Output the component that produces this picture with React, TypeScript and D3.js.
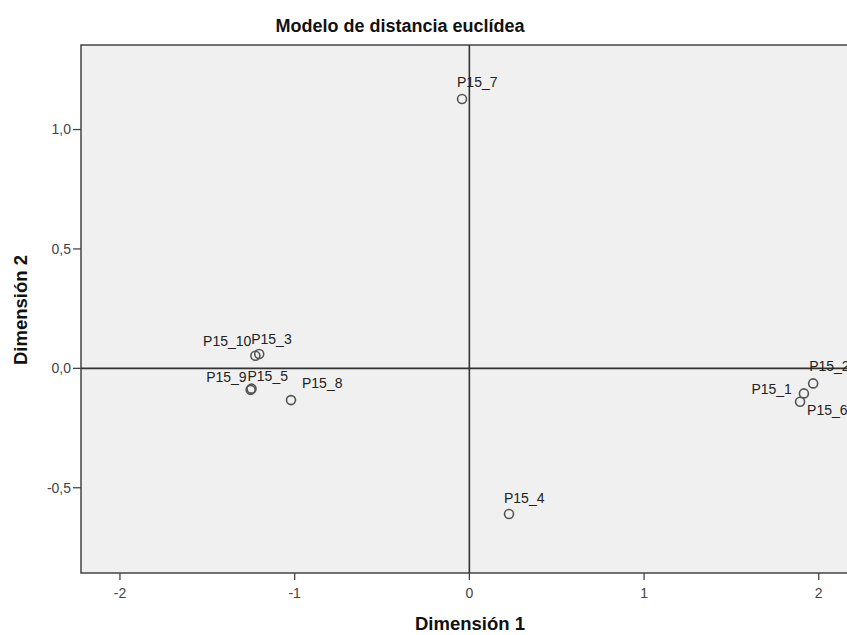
import React from 'react';
import * as d3 from 'd3';

// stimulus coordinates (dimension 1, dimension 2)
const names = ['P15_1', 'P15_2', 'P15_3', 'P15_4', 'P15_5', 'P15_6', 'P15_7', 'P15_8', 'P15_9', 'P15_10'];
const dim1 = [1.915, 1.968, -1.203, 0.227, -1.247, 1.893, -0.042, -1.021, -1.252, -1.225];
const dim2 = [-0.105, -0.063, 0.06, -0.61, -0.085, -0.14, 1.128, -0.133, -0.09, 0.053];

const xTicks = [-2, -1, 0, 1, 2];
const yTicks = [-0.5, 0, 0.5, 1.0];

// label offsets relative to the marker (px), like SPSS places them
const labelOffsets: Record<string, [number, number, string]> = {
  P15_1: [-12, 1, 'end'],
  P15_2: [-4, -12, 'start'],
  P15_3: [-8, -10, 'start'],
  P15_4: [-5, -11, 'start'],
  P15_5: [-4, -8, 'start'],
  P15_6: [7, 13, 'start'],
  P15_7: [-5, -12, 'start'],
  P15_8: [11, -12, 'start'],
  P15_9: [-4, -8, 'end'],
  P15_10: [-4, -10, 'end'],
};

const W = 847;
const H = 635;
const plot = { left: 81, top: 45, right: 880, bottom: 573 };

const App: React.FC = () => {
  const x = d3.scaleLinear().domain([-2.223, 2.35]).range([plot.left, plot.left + (2.35 + 2.223) * 174.7]);
  const y = d3.scaleLinear().domain([-0.857, 1.354]).range([plot.bottom, plot.top]);
  const font = 'Arial, "Liberation Sans", Helvetica, sans-serif';

  const pts = names.map((n, i) => ({ name: n, x: dim1[i], y: dim2[i] }));

  return (
    <svg width={W} height={H} style={{ position: 'absolute', left: 0, top: 0, background: '#fff' }} fontFamily={font}>
      <defs>
        <clipPath id="pc">
          <rect x={0} y={0} width={W} height={H} />
        </clipPath>
      </defs>
      <text x={400} y={32} textAnchor="middle" fontSize={18} fontWeight="bold" fill="#111">
        Modelo de distancia euclídea
      </text>
      <rect
        x={plot.left}
        y={plot.top}
        width={plot.right - plot.left}
        height={plot.bottom - plot.top}
        fill="#f0f0f0"
        stroke="#444"
        strokeWidth={1.5}
      />
      {/* reference lines */}
      <line x1={x(0)} x2={x(0)} y1={plot.top} y2={plot.bottom} stroke="#333" strokeWidth={1.6} />
      <line x1={plot.left} x2={plot.right} y1={y(0)} y2={y(0)} stroke="#333" strokeWidth={1.6} />

      {/* x axis */}
      {xTicks.map((t) => (
        <g key={'x' + t} transform={`translate(${x(t)},${plot.bottom})`}>
          <line y1={0} y2={7} stroke="#444" strokeWidth={1.3} />
          <text y={25} textAnchor="middle" fontSize={14} fill="#444">
            {t}
          </text>
        </g>
      ))}
      {/* y axis */}
      {yTicks.map((t) => (
        <g key={'y' + t} transform={`translate(${plot.left},${y(t)})`}>
          <line x1={0} x2={-8} stroke="#444" strokeWidth={1.3} />
          <text x={-10} dy="0.35em" textAnchor="end" fontSize={14} fill="#444">
            {d3.format('.1f')(t).replace('.', ',').replace('−', '-')}
          </text>
        </g>
      ))}

      <text x={470} y={630} textAnchor="middle" fontSize={18.5} fontWeight="bold" fill="#111">
        Dimensión 1
      </text>
      <text
        transform={`translate(27,${310}) rotate(-90)`}
        textAnchor="middle"
        fontSize={18.5}
        fontWeight="bold"
        fill="#111"
      >
        Dimensión 2
      </text>

      {/* points */}
      <g clipPath="url(#pc)">
        {pts.map((p) => (
          <circle key={p.name} cx={x(p.x)} cy={y(p.y)} r={4.5} fill="none" stroke="#555" strokeWidth={1.6} />
        ))}
        {pts.map((p) => {
          const [dx, dy, anchor] = labelOffsets[p.name];
          return (
            <text
              key={'l' + p.name}
              x={x(p.x) + dx}
              y={y(p.y) + dy}
              textAnchor={anchor}
              fontSize={14}
              fill="#222"
            >
              {p.name}
            </text>
          );
        })}
      </g>
    </svg>
  );
};

export default App;
